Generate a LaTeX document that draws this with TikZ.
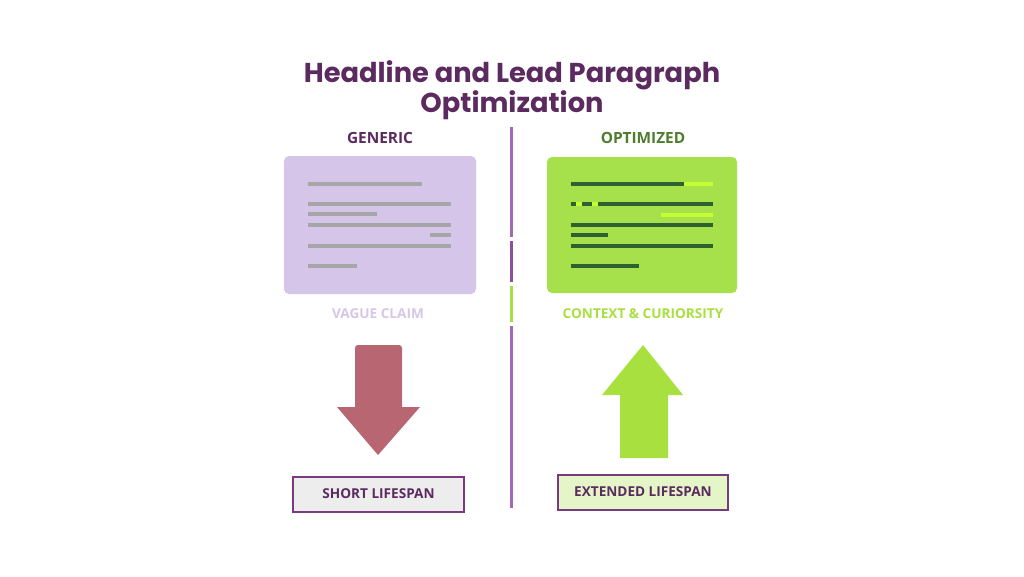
\documentclass[tikz,border=0pt]{standalone}
\usepackage{fontspec}
\setmainfont{Poppins}
\newfontfamily\labelfont{Open Sans}
\usetikzlibrary{positioning}
\definecolor{titlepurple}{HTML}{5B2A5E}
\definecolor{optgreen}{HTML}{4E7D2E}
\definecolor{divpurple}{HTML}{A468B4}
\definecolor{divdark}{HTML}{8E4E9E}
\definecolor{limebar}{HTML}{A8E040}
\definecolor{cardlav}{HTML}{D5C5E9}
\definecolor{cardgreen}{HTML}{A6E04A}
\definecolor{graybar}{HTML}{A6A6A8}
\definecolor{darkbar}{HTML}{2E6030}
\definecolor{brightbar}{HTML}{C4FF34}
\definecolor{vaguelav}{HTML}{D6C6E8}
\definecolor{rose}{HTML}{B86672}
\definecolor{boxpurple}{HTML}{7A3A80}
\definecolor{boxgray}{HTML}{EDEDED}
\definecolor{boxgreen}{HTML}{E4F5C8}
\tikzset{
  x=1pt, y=-1pt,
  titletext/.style={font=\fontsize{27.3}{28}\selectfont\bfseries, text=titlepurple, align=center},
  headtext/.style={font=\labelfont\fontsize{15.4}{18}\selectfont\bfseries},
  midtext/.style={font=\labelfont\fontsize{13.6}{16}\selectfont\bfseries},
  card/.style={rounded corners=5pt, inner sep=0pt},
  gbar/.style={line width=4pt, graybar},
  dbar/.style={line width=4pt, darkbar},
  bbar/.style={line width=4pt, brightbar},
  divider/.style={line width=3pt, divpurple},
  lifebox/.style={draw=boxpurple, line width=2pt, minimum height=35pt, inner sep=0pt,
    font=\labelfont\fontsize{13.6}{16}\selectfont\bfseries, text=titlepurple},
}
\begin{document}
\begin{tikzpicture}
\useasboundingbox (0,0) rectangle (1024,576);
\fill[white] (0,0) rectangle (1024,576);

% title
\node[titletext] (title) at (512,90) {Headline and Lead Paragraph\\Optimization};

% column headings
\node[headtext, text=titlepurple] (generic) at (380,138) {GENERIC};
\node[headtext, text=optgreen] (optimized) at (643,138) {OPTIMIZED};

% divider
\coordinate (d1) at (511,127);
\coordinate (d2) at (511,237);
\coordinate (d3) at (511,241);
\coordinate (d4) at (511,282);
\coordinate (d5) at (511,286);
\coordinate (d6) at (511,322);
\coordinate (d7) at (511,326);
\coordinate (d8) at (511,508);
\draw[divider] (d1) -- (d2);
\draw[divider, divdark] (d3) -- (d4);
\draw[divider, limebar] (d5) -- (d6);
\draw[divider] (d7) -- (d8);

% left card
\node[card, fill=cardlav, minimum width=192pt, minimum height=138pt] (cardL) at (380,225) {};
\draw[gbar] (308,184) -- (422,184);
\draw[gbar] (308,204) -- (451,204);
\draw[gbar] (308,214) -- (377,214);
\draw[gbar] (308,225) -- (451,225);
\draw[gbar] (430,235) -- (451,235);
\draw[gbar] (308,246) -- (451,246);
\draw[gbar] (308,266) -- (357,266);

% right card
\node[card, fill=cardgreen, minimum width=190pt, minimum height=136pt] (cardR) at (642,225) {};
\draw[dbar] (571,184) -- (684,184);
\draw[bbar] (684,184) -- (713,184);
\draw[bbar] (571,204) -- (713,204);
\draw[dbar] (571,204) -- (576,204);
\draw[dbar] (582,204) -- (592,204);
\draw[dbar] (598,204) -- (713,204);
\draw[bbar] (661,215) -- (713,215);
\draw[dbar] (571,225) -- (713,225);
\draw[dbar] (571,235) -- (608,235);
\draw[dbar] (571,246) -- (713,246);
\draw[dbar] (571,266) -- (639,266);

% mid labels
\node[midtext, text=vaguelav] (vague) at (378,314) {VAGUE CLAIM};
\node[midtext, text=limebar] (context) at (643,314) {CONTEXT \& CURIORSITY};

% down arrow
\fill[rose] (355,348) [rounded corners=3pt] -- (355,345) -- (402,345) [sharp corners] -- (402,407)
  -- (420,407) -- (378,455) -- (337,407) -- (355,407) -- cycle;
% up arrow
\fill[limebar] (643,345) -- (683,395) -- (668,395) -- (668,458) -- (620,458) -- (620,395) -- (602,395) -- cycle;

% bottom boxes
\node[lifebox, fill=boxgray, minimum width=171pt] (short) at (378.5,494) {SHORT LIFESPAN};
\node[lifebox, fill=boxgreen, minimum width=170pt] (extended) at (643,492) {EXTENDED LIFESPAN};
\end{tikzpicture}
\end{document}
